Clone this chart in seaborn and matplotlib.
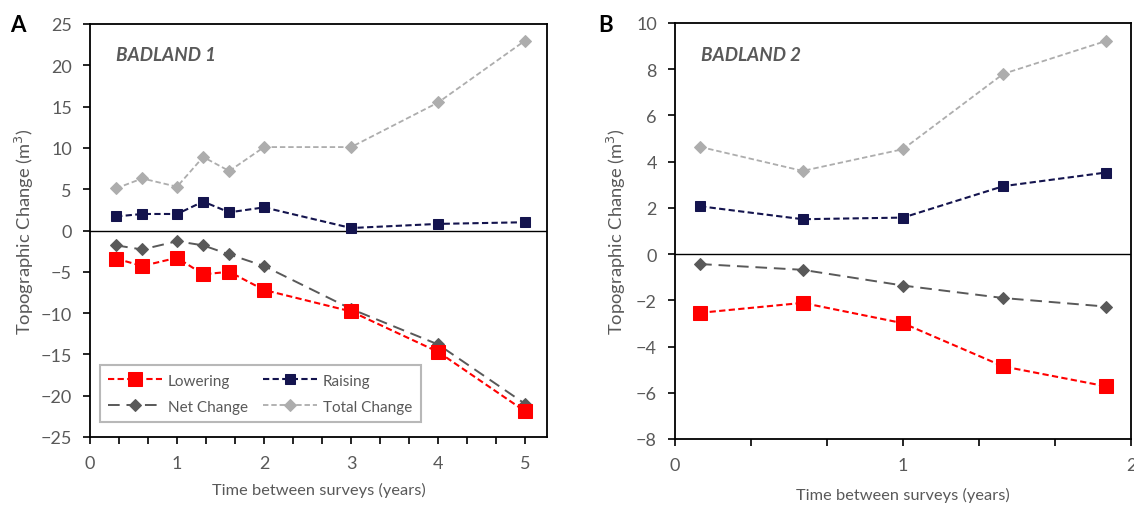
import matplotlib
matplotlib.use("Agg")
import matplotlib.pyplot as plt
import seaborn as sns
import pandas as pd
from matplotlib.ticker import MultipleLocator

# Badland 1: time between surveys (years) and volume change (m3)
years_b1 = [0.3, 0.6, 1.0, 1.3, 1.6, 2.0, 3.0, 4.0, 5.0]
lowering_b1 = [-3.4, -4.3, -3.3, -5.3, -5.0, -7.2, -9.8, -14.7, -21.9]
raising_b1 = [1.7, 2.0, 2.0, 3.5, 2.2, 2.8, 0.3, 0.8, 1.0]
net_b1 = [-1.8, -2.3, -1.3, -1.8, -2.9, -4.3, -9.5, -13.8, -21.0]
total_b1 = [5.1, 6.3, 5.3, 8.9, 7.2, 10.1, 10.1, 15.5, 23.0]

# Badland 2
years_b2 = [0.11, 0.56, 1.0, 1.44, 1.89]
lowering_b2 = [-2.54, -2.11, -2.99, -4.86, -5.72]
raising_b2 = [2.07, 1.51, 1.58, 2.94, 3.53]
net_b2 = [-0.43, -0.68, -1.36, -1.90, -2.27]
total_b2 = [4.64, 3.60, 4.54, 7.80, 9.22]

series_names = ["Lowering", "Raising", "Net Change", "Total Change"]
panel_titles = ["BADLAND 1", "BADLAND 2"]
panel_letters = ["A", "B"]

sns.set_style("white")
plt.rcParams["font.family"] = ["Lato", "DejaVu Sans"]

TEXT = "#595959"
styles = {
    "Lowering": dict(color="#FF0000", marker="s", ms=9.5, dashes=(3, 1.6), lw=1.5),
    "Raising": dict(color="#14144E", marker="s", ms=7.0, dashes=(3, 1.6), lw=1.5),
    "Net Change": dict(color="#595959", marker="D", ms=6.0, dashes=(6, 3.5), lw=1.4),
    "Total Change": dict(color="#ADADAD", marker="D", ms=6.0, dashes=(3, 1.6), lw=1.3),
}


def long_frame(x, lo, ra, ne, to):
    parts = []
    for name, vals in zip(series_names, [lo, ra, ne, to]):
        parts.append(pd.DataFrame({"years": x, "change": vals, "series": name}))
    return pd.concat(parts, ignore_index=True)


frames = [
    long_frame(years_b1, lowering_b1, raising_b1, net_b1, total_b1),
    long_frame(years_b2, lowering_b2, raising_b2, net_b2, total_b2),
]

fig = plt.figure(figsize=(11.34, 5.06), dpi=100)
W, H = 1134, 506
axA = fig.add_axes([90 / W, 1 - 438 / H, (547 - 90) / W, (438 - 25) / H])
axB = fig.add_axes([675 / W, 1 - 440 / H, (1131 - 675) / W, (440 - 24) / H])

limits = [dict(x=(0, 5.25), y=(-25, 25), ystep=5), dict(x=(0, 2), y=(-8, 10), ystep=2)]

for ax, df, lim, title in zip([axA, axB], frames, limits, panel_titles):
    ax.axhline(0, color="black", lw=1.0, zorder=1)
    # draw back-to-front so the red series sits on top
    for name in ["Total Change", "Net Change", "Raising", "Lowering"]:
        st = styles[name]
        sub = df[df["series"] == name]
        sns.lineplot(data=sub, x="years", y="change", ax=ax, sort=False,
                     estimator=None, color=st["color"], marker=st["marker"],
                     markersize=st["ms"], markeredgecolor=st["color"],
                     linewidth=st["lw"], label=name, legend=False, zorder=3)
        ax.lines[-1].set_dashes(st["dashes"])

    ax.set_xlim(*lim["x"])
    ax.set_ylim(*lim["y"])
    ax.xaxis.set_major_locator(MultipleLocator(1))
    ax.xaxis.set_minor_locator(MultipleLocator(1 / 3))
    ax.yaxis.set_major_locator(MultipleLocator(lim["ystep"]))
    ax.tick_params(axis="both", which="both", direction="out", length=5,
                   width=1.2, color="black", labelcolor=TEXT, labelsize=13)
    ax.tick_params(axis="x", which="both", bottom=True, pad=8)
    ax.tick_params(axis="y", which="major", left=True, pad=8)
    for sp in ax.spines.values():
        sp.set_color("black")
        sp.set_linewidth(1.3)
    ax.set_xlabel("Time between surveys (years)", fontsize=11.8, color=TEXT)
    ax.set_ylabel("Topographic Change (m$^3$)", fontsize=13.2, color=TEXT)
    ax.text(0.057, 0.925, title, transform=ax.transAxes, fontsize=13.5,
            fontweight="bold", fontstyle="italic", color=TEXT, va="center")
    ax.grid(False)

axA.yaxis.set_label_coords(-0.118, 0.5)
axB.yaxis.set_label_coords(-0.102, 0.5)
axA.xaxis.set_label_coords(0.5, -0.108)
axB.xaxis.set_label_coords(0.5, -0.115)

fig.text(10 / W, 1 - 26 / H, "A", fontsize=16, fontweight="bold", color="black", va="center")
fig.text(598 / W, 1 - 26 / H, "B", fontsize=16, fontweight="bold", color="black", va="center")

# two-column legend filled column-wise: rows read Lowering/Raising, Net/Total
handles, labels = axA.get_legend_handles_labels()
legend_order = ["Lowering", "Net Change", "Raising", "Total Change"]
idx = [labels.index(n) for n in legend_order]
leg = axA.legend([handles[i] for i in idx], [labels[i] for i in idx],
                 ncol=2, loc="lower left", bbox_to_anchor=(0.022, 0.036),
                 borderaxespad=0, frameon=True, fancybox=False, fontsize=11,
                 handlelength=3.5, handletextpad=0.4, columnspacing=1.0,
                 borderpad=0.55, labelspacing=0.8, labelcolor=TEXT)
leg.get_frame().set_edgecolor("#A6A6A6")
leg.get_frame().set_linewidth(1.5)

fig.savefig("out.png", dpi=100, facecolor="white")
